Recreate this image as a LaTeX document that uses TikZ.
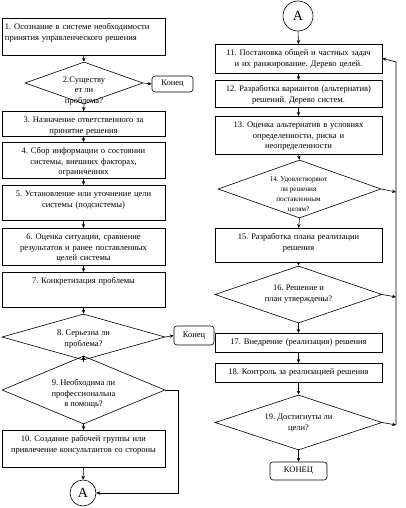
\documentclass[tikz,border=0pt]{standalone}
\usepackage{fontspec}
\setmainfont{Liberation Serif}
\usetikzlibrary{shapes.geometric,arrows.meta}
\frenchspacing
\begin{document}
\begin{tikzpicture}[x=1pt,y=-1pt,
  every node/.style={font=\fontsize{8.5}{10.8}\selectfont},
  box/.style={draw,line width=0.6pt,anchor=north,text width=157pt,align=center,
    inner xsep=3pt,inner ysep=3pt,text height=8pt},
  rbox/.style={box,text width=161pt},
  dia/.style={draw,line width=0.6pt,diamond,inner sep=0pt},
  endbox/.style={draw,line width=0.6pt,rounded corners=3pt,inner sep=0pt},
  conn/.style={draw,circle,line width=0.6pt,inner sep=0pt,font=\fontsize{14}{14}\selectfont},
  arr/.style={line width=0.6pt,-{Stealth[length=4pt,width=3.5pt]}}]
\useasboundingbox (0,0) rectangle (405,508);
% left column
\node[box,align=left,text depth=23pt] (b1) at (83.5,18)
  {1. Осознание в системе необходимости\\принятия управленческого решения};
\node[dia,minimum width=118pt,minimum height=42pt] (d2) at (84,83) {};
\node[align=center] (t2) at (84,91) {2.Существу\\ет ли\\проблема?};
\node[endbox,minimum width=41pt,minimum height=16pt] (k1) at (172.5,84) {Конец};
\node[box,text depth=11pt] (b3) at (83.5,111) {3. Назначение ответственного за\\принятие решения};
\node[box,text depth=22pt] (b4) at (83.5,142)
  {4. Сбор информации о состоянии\\системы, внешних факторах,\\ограничениях};
\node[box,text depth=21pt] (b5) at (83.5,185)
  {5. Установление или уточнение цели\\системы (подсистемы)};
\node[box,text depth=23pt] (b6) at (83.5,228)
  {6. Оценка ситуации, сравнение\\результатов и ранее поставленных\\целей системы};
\node[box,text depth=21pt] (b7) at (83.5,272) {7. Конкретизация проблемы};
\node[dia,minimum width=163pt,minimum height=46pt] (d8) at (83.5,337) {};
\node[align=center] (t8) at (83.5,339) {8. Серьезна ли\\проблема?};
\node[endbox,minimum width=40pt,minimum height=19pt] (k2) at (194,335.5) {Конец};
\node[dia,minimum width=163pt,minimum height=68pt] (d9) at (83.5,390) {};
\node[align=center] (t9) at (83.5,394) {9. Необходима ли\\профессиональна\\я помощь?};
\node[box,text depth=23pt] (b10) at (83.5,430)
  {10. Создание рабочей группы или\\привлечение консультантов со стороны};
\node[conn,minimum size=26pt] (a1) at (83,493) {A};
% right column
\node[conn,minimum size=30pt] (a2) at (298,16) {A};
\node[rbox,text depth=15pt] (b11) at (298.5,44)
  {11. Постановка общей и частных задач\\и их ранжирование. Дерево целей.};
\node[rbox,text depth=13pt] (b12) at (298.5,80)
  {12. Разработка вариантов (альтернатив)\\решений. Дерево систем.};
\node[rbox,text depth=24pt] (b13) at (298.5,116)
  {13. Оценка альтернатив в условиях\\определенности, риска и\\неопределенности};
\node[dia,minimum width=163pt,minimum height=58pt] (d14) at (299.5,189) {};
\node[align=center,font=\fontsize{7.2}{9.8}\selectfont] (t14) at (298.5,195)
  {14. Удовлетворяют\\ли решения\\поставленным\\целям?};
\node[rbox,text depth=20pt] (b15) at (298.5,228)
  {15. Разработка плана реализации\\решения};
\node[dia,minimum width=167pt,minimum height=57pt] (d16) at (298.5,294.5) {};
\node[align=center] (t16) at (298.5,294) {16. Решение и\\план утверждены?};
\node[rbox,text depth=5pt] (b17) at (298.5,333) {17. Внедрение (реализация) решения};
\node[rbox,text depth=5pt] (b18) at (298.5,363) {18. Контроль за реализацией решения};
\node[dia,minimum width=167pt,minimum height=55pt] (d19) at (298.5,422.5) {};
\node[align=center] (t19) at (298.5,423) {19. Достигнуты ли\\цели?};
\node[endbox,minimum width=57pt,minimum height=18pt] (k3) at (298.5,471) {КОНЕЦ};
% return line on the right
\coordinate (r14) at (396,192);
\coordinate (r16) at (396,297);
\coordinate (r19) at (396,425);
\coordinate (rtop) at (396,62);
% arrows
\foreach \a/\b in {b1/d2,d2/b3,b3/b4,b4/b5,b5/b6,b6/b7,b7/d8,d9/b10,b10/a1,
    a2/b11,b11/b12,b12/b13,b13/d14,d14/b15,b15/d16,d16/b17,b17/b18,b18/d19,d19/k3}
  \draw[arr] (\a.south) -- (\b.north);
\draw[arr] (d2.east) -- (k1.west);
\draw[arr] (d8.east) -- (k2.west);
\draw[arr] ([yshift=-6pt]d9.north) -- (d9.north);
\draw[arr] (d9.east) -- ++(13,0) |- (a1.east);
\foreach \d/\r in {d14/r14,d16/r16,d19/r19}
  \draw[arr] (\d.east) -- (\r);
\draw[arr] (r19) -- (rtop) -- ([yshift=0.5pt]b11.east);
\end{tikzpicture}
\end{document}
